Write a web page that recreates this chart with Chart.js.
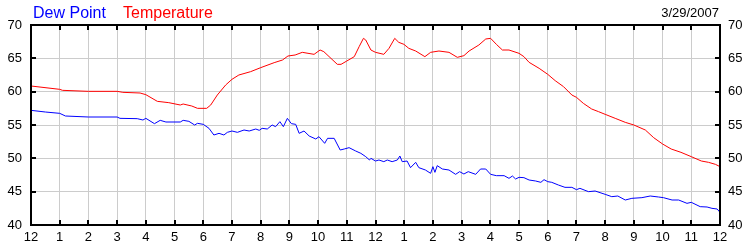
<!DOCTYPE html>
<html>
<head>
<meta charset="utf-8">
<script src="https://cdn.jsdelivr.net/npm/chart.js@4/dist/chart.umd.min.js"></script>
<style>
html,body{margin:0;padding:0;background:#fff;}
canvas{display:block;}
</style>
</head>
<body>
<canvas id="c" width="750" height="250"></canvas>
<script>
const dateLabel = "3/29/2007";
const seriesNames = ["Dew Point", "Temperature"];
const yTicks = [40, 45, 50, 55, 60, 65, 70];

const tempHours = [0, 1, 1.1, 2, 3, 3.2, 3.8, 4, 4.4, 4.8, 5.2, 5.3, 5.6, 5.8, 6.12, 6.26, 6.49, 6.78, 7, 7.24, 7.65, 8, 8.47, 8.76, 8.95, 9.2, 9.45, 9.86, 10.07, 10.2, 10.67, 10.8, 11, 11.26, 11.43, 11.58, 11.66, 11.84, 12, 12.29, 12.47, 12.67, 12.81, 12.99, 13.16, 13.4, 13.72, 13.92, 14.21, 14.56, 14.85, 15.08, 15.26, 15.6, 15.84, 16.01, 16.21, 16.42, 16.65, 17, 17.17, 17.35, 17.7, 18, 18.26, 18.55, 18.84, 19, 19.24, 19.53, 19.77, 20, 20.35, 20.7, 21, 21.4, 21.69, 22, 22.3, 22.64, 23, 23.35, 23.6, 23.84, 24];
const tempValues = [60.85, 60.35, 60.2, 60.05, 60.05, 59.9, 59.8, 59.55, 58.55, 58.35, 58.0, 58.15, 57.85, 57.5, 57.5, 58.0, 59.5, 61.0, 61.85, 62.5, 63.0, 63.6, 64.35, 64.75, 65.35, 65.5, 65.9, 65.6, 66.25, 66.0, 64.1, 64.1, 64.6, 65.25, 66.75, 68.0, 67.75, 66.25, 65.9, 65.6, 66.5, 68.0, 67.4, 67.1, 66.5, 66.1, 65.25, 65.9, 66.1, 65.9, 65.15, 65.4, 66.1, 67.0, 67.9, 68.0, 67.1, 66.25, 66.25, 65.75, 65.25, 64.4, 63.5, 62.6, 61.65, 60.75, 59.5, 59.15, 58.25, 57.4, 57.0, 56.6, 56.0, 55.4, 55.0, 54.25, 53.1, 52.15, 51.4, 50.9, 50.25, 49.6, 49.4, 49.1, 48.75];

const dewHours = [0, 0.5, 1, 1.2, 2, 3, 3.1, 3.7, 3.9, 4, 4.3, 4.5, 4.7, 5.2, 5.3, 5.5, 5.7, 5.8, 6, 6.2, 6.37, 6.55, 6.72, 6.84, 7, 7.19, 7.42, 7.6, 7.83, 7.95, 8.05, 8.23, 8.4, 8.52, 8.67, 8.79, 8.93, 9.07, 9.22, 9.34, 9.51, 9.69, 9.92, 10.03, 10.1, 10.23, 10.33, 10.56, 10.77, 10.91, 11.08, 11.31, 11.49, 11.66, 11.79, 11.84, 12, 12.12, 12.29, 12.41, 12.58, 12.76, 12.85, 12.93, 13.1, 13.22, 13.4, 13.51, 13.74, 13.92, 14, 14.07, 14.15, 14.33, 14.56, 14.79, 14.93, 15.08, 15.23, 15.49, 15.66, 15.84, 16.01, 16.21, 16.48, 16.65, 16.77, 16.88, 17, 17.17, 17.35, 17.58, 17.76, 17.87, 18, 18.14, 18.37, 18.6, 18.84, 19, 19.12, 19.42, 19.65, 20, 20.23, 20.44, 20.7, 20.93, 21.28, 21.57, 21.86, 22.03, 22.33, 22.56, 22.85, 23, 23.31, 23.55, 23.72, 23.9, 24];
const dewValues = [57.2, 56.95, 56.75, 56.35, 56.2, 56.2, 56.0, 55.95, 55.75, 56.0, 55.2, 55.7, 55.45, 55.45, 55.7, 55.55, 55.0, 55.25, 55.1, 54.5, 53.5, 53.75, 53.5, 53.9, 54.1, 53.9, 54.25, 54.1, 54.4, 54.2, 54.5, 54.4, 55.0, 54.75, 55.5, 54.75, 56.0, 55.2, 55.1, 53.75, 54.1, 53.35, 52.9, 53.25, 52.9, 52.25, 53.0, 53.0, 51.25, 51.4, 51.6, 51.1, 50.75, 50.25, 49.75, 50.0, 49.6, 49.75, 49.5, 49.75, 49.5, 49.75, 50.35, 49.5, 49.6, 48.6, 49.4, 48.6, 48.25, 47.75, 48.75, 47.9, 48.9, 48.4, 48.25, 47.6, 48.0, 47.65, 48.0, 47.6, 48.4, 48.4, 47.6, 47.4, 47.4, 47.0, 47.35, 46.9, 47.15, 47.1, 46.75, 46.6, 46.4, 46.8, 46.5, 46.4, 46.0, 45.65, 45.65, 45.3, 45.5, 45.0, 45.1, 44.6, 44.25, 44.35, 43.75, 44.0, 44.1, 44.35, 44.2, 44.1, 43.75, 43.75, 43.25, 43.4, 42.75, 42.7, 42.5, 42.4, 41.9];

const FONT = "'Liberation Sans', Arial, sans-serif";

const toPts = (xs, ys) => xs.map((x, i) => ({x: x, y: ys[i]}));

const frame = {
  id: 'frame',
  afterDraw(chart) {
    const ctx = chart.ctx;
    const a = chart.chartArea;
    const xs = chart.scales.x, ys = chart.scales.y;
    ctx.save();
    ctx.strokeStyle = '#000';
    ctx.lineWidth = 2;
    ctx.beginPath();
    xs.ticks.forEach(t => {
      const px = Math.round(xs.getPixelForValue(t.value));
      ctx.moveTo(px, a.top); ctx.lineTo(px, a.top + 5);
      ctx.moveTo(px, a.bottom); ctx.lineTo(px, a.bottom - 5);
    });
    ys.ticks.forEach(t => {
      const py = Math.round(ys.getPixelForValue(t.value));
      ctx.moveTo(a.left, py); ctx.lineTo(a.left + 5, py);
      ctx.moveTo(a.right, py); ctx.lineTo(a.right - 5, py);
    });
    ctx.stroke();
    ctx.strokeRect(a.left, a.top, a.right - a.left, a.bottom - a.top);
    // header texts
    ctx.textBaseline = 'alphabetic';
    ctx.font = '16px ' + FONT;
    ctx.textAlign = 'left';
    ctx.fillStyle = '#0000ff';
    ctx.fillText(seriesNames[0], 33, 18);
    ctx.fillStyle = '#ff0000';
    ctx.fillText(seriesNames[1], 123, 18);
    ctx.font = '13px ' + FONT;
    ctx.fillStyle = '#000';
    ctx.textAlign = 'right';
    ctx.fillText(dateLabel, 719, 17);
    ctx.restore();
  }
};

new Chart(document.getElementById('c'), {
  type: 'line',
  data: {
    datasets: [
      {label: seriesNames[1], data: toPts(tempHours, tempValues), borderColor: '#ff0000', borderWidth: 1, pointRadius: 0, tension: 0, fill: false},
      {label: seriesNames[0], data: toPts(dewHours, dewValues), borderColor: '#0000ff', borderWidth: 1, pointRadius: 0, tension: 0, fill: false}
    ]
  },
  options: {
    responsive: false,
    animation: false,
    devicePixelRatio: 1,
    layout: {padding: {top: 25, left: 0, right: 0, bottom: 0}},
    plugins: {legend: {display: false}, title: {display: false}, tooltip: {enabled: false}},
    scales: {
      x: {
        type: 'linear', min: 0, max: 24,
        afterFit: s => { s.height = 25; },
        afterBuildTicks: s => { s.ticks = Array.from({length: 25}, (_, i) => ({value: i})); },
        ticks: {stepSize: 1, autoSkip: false, maxRotation: 0, padding: 5, color: '#000', font: {family: FONT, size: 13},
          callback: v => String((v % 12) || 12)},
        grid: {color: '#cccccc', lineWidth: 1, drawTicks: false},
        border: {display: false}
      },
      y: {
        position: 'left', min: 40, max: 70,
        afterFit: s => { s.width = 31; },
        afterBuildTicks: s => { s.ticks = yTicks.map(v => ({value: v})); },
        ticks: {stepSize: 5, padding: 9, color: '#000', font: {family: FONT, size: 13}},
        grid: {color: '#cccccc', lineWidth: 1, drawTicks: false},
        border: {display: false}
      },
      y2: {
        position: 'right', min: 40, max: 70,
        afterFit: s => { s.width = 30; },
        afterBuildTicks: s => { s.ticks = yTicks.map(v => ({value: v})); },
        ticks: {stepSize: 5, padding: 8, color: '#000', font: {family: FONT, size: 13}},
        grid: {display: false, drawTicks: false},
        border: {display: false}
      }
    }
  },
  plugins: [frame]
});
</script>
</body>
</html>
